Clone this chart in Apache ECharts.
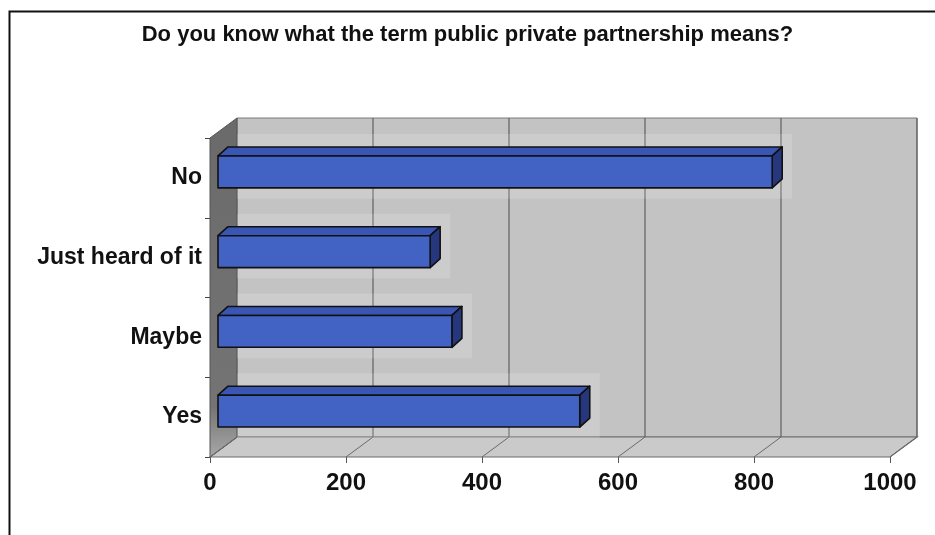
<!DOCTYPE html>
<html>
<head>
<meta charset="utf-8">
<script src="https://cdn.jsdelivr.net/npm/echarts@6/dist/echarts.min.js"></script>
<style>
html,body{margin:0;padding:0;background:#fff;}
#chart{width:935px;height:535px;}
</style>
</head>
<body>
<div id="chart"></div>
<script>
// ---- data ----
const titleText = 'Do you know what the term public private partnership means?';
const categories = ['Yes', 'Maybe', 'Just heard of it', 'No'];
const values = [532, 344, 312, 815];
const xTicks = [0, 200, 400, 600, 800, 1000];

// ---- style constants ----
const FONT = '"Liberation Sans", Arial, sans-serif';
const DEPTH = [27, -20];       // wall depth offset (px)
const BAR_OFF = [8, -6];       // bar front plane offset from front axis plane
const BAR_DEPTH = [10, -9];    // bar depth
const BAR_FRAC = 0.4;

const chart = echarts.init(document.getElementById('chart'));

function frameRender(params, api) {
  const cs = params.coordSys;
  const fx0 = cs.x, fx1 = cs.x + cs.width, fy0 = cs.y, fy1 = cs.y + cs.height;
  const dx = DEPTH[0], dy = DEPTH[1];
  const children = [];
  // back wall
  children.push({type: 'polygon', shape: {points: [[fx0+dx, fy0+dy], [fx1+dx, fy0+dy], [fx1+dx, fy1+dy], [fx0+dx, fy1+dy]]},
    style: {fill: '#c3c3c3', stroke: '#7a7a7a', lineWidth: 1}});
  // floor
  children.push({type: 'polygon', shape: {points: [[fx0, fy1], [fx1, fy1], [fx1+dx, fy1+dy], [fx0+dx, fy1+dy]]},
    style: {fill: '#cacaca', stroke: '#6a6a6a', lineWidth: 1.2}});
  // left wall
  children.push({type: 'polygon', shape: {points: [[fx0, fy0], [fx0+dx, fy0+dy], [fx0+dx, fy1+dy], [fx0, fy1]]},
    style: {fill: new echarts.graphic.LinearGradient(0, 0, 0, 1, [
      {offset: 0, color: '#6a6a6a'}, {offset: 0.85, color: '#747474'}, {offset: 1, color: '#a8a8a8'}]),
      stroke: '#555', lineWidth: 1}});
  // gridlines on back wall and floor
  xTicks.forEach(function (t) {
    const p = api.coord([t, 0]);
    const x = p[0];
    if (t > 0) {
      children.push({type: 'line', shape: {x1: x+dx, y1: fy0+dy, x2: x+dx, y2: fy1+dy},
        style: {stroke: '#5e5e5e', lineWidth: 1.2}});
    }
    children.push({type: 'line', shape: {x1: x, y1: fy1, x2: x+dx, y2: fy1+dy},
      style: {stroke: '#6a6a6a', lineWidth: 1}});
  });
  return {type: 'group', children: children};
}

function barRender(params, api) {
  const cat = api.value(1), v = api.value(0);
  const cs = params.coordSys;
  const p0 = api.coord([0, cat]);
  const p1 = api.coord([v, cat]);
  const band = api.size([0, 1])[1];
  const h = band * BAR_FRAC;
  const x0 = p0[0] + BAR_OFF[0], x1 = p1[0] + BAR_OFF[0];
  const yc = p0[1] + BAR_OFF[1];
  const yt = yc - h / 2, yb = yc + h / 2;
  const bx = BAR_DEPTH[0], by = BAR_DEPTH[1];
  const line = {stroke: '#111', lineWidth: 1.6, lineJoin: 'round'};
  return {type: 'group', children: [
    {type: 'rect', shape: {x: cs.x + DEPTH[0], y: yt + by - 13, width: x1 + bx + 10 - (cs.x + DEPTH[0]), height: (yb + 11) - (yt + by - 13)},
      style: {fill: 'rgba(255,255,255,0.15)'}},
    {type: 'polygon', shape: {points: [[x0, yt], [x1, yt], [x1+bx, yt+by], [x0+bx, yt+by]]},
      style: Object.assign({fill: '#3a56b4'}, line)},
    {type: 'polygon', shape: {points: [[x1, yt], [x1+bx, yt+by], [x1+bx, yb+by], [x1, yb]]},
      style: Object.assign({fill: '#26377d'}, line)},
    {type: 'rect', shape: {x: x0, y: yt, width: x1 - x0, height: h},
      style: Object.assign({fill: '#4263c4'}, line)}
  ]};
}

const option = {
  backgroundColor: '#ffffff',
  animation: false,
  title: {
    text: titleText, left: 'center', top: 19,
    textStyle: {fontFamily: FONT, fontSize: 22, fontWeight: 'bold', color: '#111'}
  },
  graphic: [{
    type: 'rect', left: 7, top: 9, shape: {width: 960, height: 560},
    style: {fill: 'none', stroke: '#111', lineWidth: 2}, z: 100
  }],
  grid: {left: 210, right: 45, top: 138, bottom: 78, containLabel: false},
  xAxis: {
    type: 'value', min: 0, max: 1000, interval: 200,
    axisLine: {show: false},
    axisTick: {show: true, length: 6, lineStyle: {color: '#555'}},
    splitLine: {show: false},
    axisLabel: {fontFamily: FONT, fontSize: 24, fontWeight: 'bold', color: '#111', margin: 14,
      formatter: function (v) { return String(v); }}
  },
  yAxis: {
    type: 'category', data: categories,
    axisLine: {show: true, lineStyle: {color: '#444'}},
    axisTick: {show: true, length: 5, lineStyle: {color: '#444'}},
    axisLabel: {fontFamily: FONT, fontSize: 23, fontWeight: 'bold', color: '#111', margin: 8},
    splitLine: {show: false}
  },
  series: [
    {type: 'custom', renderItem: frameRender, data: [[0, 0]], encode: {x: 0, y: 1}, z: 1, silent: true, clip: false},
    {type: 'custom', renderItem: barRender, encode: {x: 0, y: 1}, z: 2, clip: false,
      data: categories.map(function (c, i) { return [values[i], i]; })}
  ]
};
chart.setOption(option);
</script>
</body>
</html>
